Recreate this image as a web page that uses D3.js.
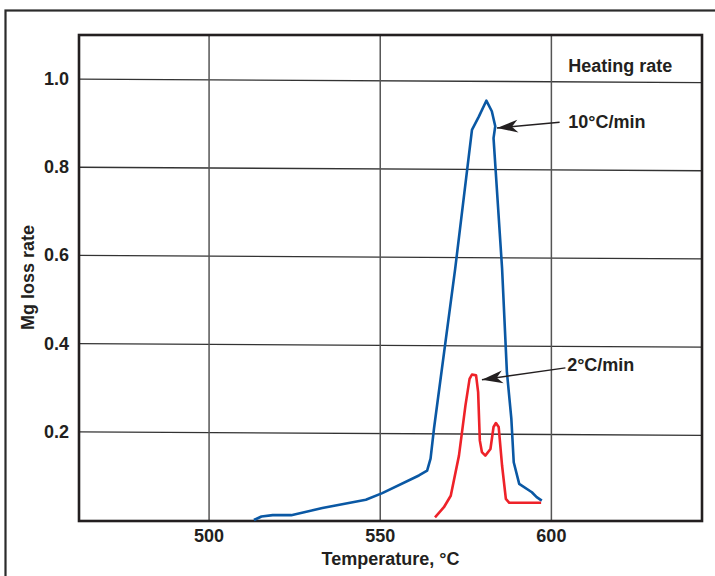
<!DOCTYPE html>
<html>
<head>
<meta charset="utf-8">
<script src="https://cdn.jsdelivr.net/npm/d3@7"></script>
<style>
  body { margin: 0; background: #fff; }
  svg text { font-family: "Liberation Sans", Arial, sans-serif; font-weight: bold; fill: #231f20; }
</style>
</head>
<body>
<svg id="chart" width="715" height="576"></svg>
<script>
// Mg loss rate vs temperature, two heating rates
const temp10 = [513.1, 515.3, 518.6, 524.0, 533.1, 545.8, 550.6, 561.3, 563.7, 564.7, 565.7, 571.9, 576.8, 578.8, 581.0, 582.6, 583.6, 583.1, 585.6, 587.0, 588.3, 589.0, 590.6, 594.3, 595.7, 597.2];
const rate10 = [0.0, 0.008, 0.011, 0.011, 0.027, 0.046, 0.061, 0.101, 0.112, 0.139, 0.207, 0.570, 0.885, 0.915, 0.951, 0.927, 0.893, 0.866, 0.570, 0.336, 0.230, 0.131, 0.082, 0.063, 0.052, 0.044];

const temp2 = [566.0, 568.6, 570.6, 573.0, 574.9, 576.1, 576.8, 578.0, 578.6, 579.1, 579.7, 580.7, 582.2, 583.1, 583.8, 584.6, 585.6, 586.7, 587.7, 597.0];
const rate2 = [0.006, 0.029, 0.055, 0.146, 0.260, 0.320, 0.330, 0.328, 0.290, 0.180, 0.154, 0.146, 0.161, 0.211, 0.220, 0.211, 0.123, 0.048, 0.039, 0.039];

const xTicks = [500, 550, 600];
const yTicks = [0.2, 0.4, 0.6, 0.8, 1.0];

// label text, text anchor point and arrow (tail -> tip) in data units
const notes = [
  { text: "10°C/min", tx: 604.9, ty: 0.902, x1: 602.4, y1: 0.902, x2: 584.1, y2: 0.889 },
  { text: "2°C/min",  tx: 604.6, ty: 0.352, x1: 604.1, y1: 0.345, x2: 579.7, y2: 0.318 }
];

const svg = d3.select("#chart");
const pl = 79, pr = 702, pt = 35, pb = 520;
const fs = 18;

const x = d3.scaleLinear().domain([462, 644]).range([pl, pr]);
const y = d3.scaleLinear().domain([0, 1.1]).range([pb, pt]);

// outer figure box (runs off the page on the right and bottom)
svg.append("rect")
  .attr("x", 5.5).attr("y", 10.5).attr("width", 760).attr("height", 620)
  .attr("fill", "none").attr("stroke", "#2b2b2b").attr("stroke-width", 2.2);

// grid: horizontal lines are slightly skewed in the original scan
const skew = 3.5;
svg.append("g").selectAll("line").data(yTicks).join("line")
  .attr("x1", pl).attr("x2", pr)
  .attr("y1", d => y(d)).attr("y2", d => y(d) + skew)
  .attr("stroke", "#333").attr("stroke-width", 1.3);

svg.append("g").selectAll("line").data(xTicks).join("line")
  .attr("x1", d => x(d)).attr("x2", d => x(d))
  .attr("y1", pt).attr("y2", pb)
  .attr("stroke", "#555").attr("stroke-width", 1.5);

// plot frame
svg.append("rect")
  .attr("x", pl).attr("y", pt).attr("width", pr - pl).attr("height", pb - pt + 1)
  .attr("fill", "none").attr("stroke", "#231f20").attr("stroke-width", 2.6);

// tick labels
svg.append("g").selectAll("text").data(yTicks).join("text")
  .attr("x", pl - 10).attr("y", d => y(d))
  .attr("text-anchor", "end").attr("dominant-baseline", "central")
  .attr("font-size", fs)
  .text(d => d3.format(".1f")(d));

svg.append("g").selectAll("text").data(xTicks).join("text")
  .attr("x", d => x(d)).attr("y", pb + 16)
  .attr("text-anchor", "middle").attr("dominant-baseline", "central")
  .attr("font-size", fs)
  .text(d => d);

// axis titles
svg.append("text")
  .attr("x", (pl + pr) / 2).attr("y", pb + 39)
  .attr("text-anchor", "middle").attr("dominant-baseline", "central")
  .attr("font-size", fs)
  .text("Temperature, °C");

svg.append("text")
  .attr("transform", `translate(28,${(pt + pb) / 2}) rotate(-90)`)
  .attr("text-anchor", "middle").attr("dominant-baseline", "central")
  .attr("font-size", fs)
  .text("Mg loss rate");

// curves
const line = d3.line().x(d => x(d[0])).y(d => y(d[1]));
svg.append("path")
  .datum(d3.zip(temp10, rate10))
  .attr("d", line)
  .attr("fill", "none").attr("stroke", "#0a58a4").attr("stroke-width", 2.6)
  .attr("stroke-linejoin", "round");
svg.append("path")
  .datum(d3.zip(temp2, rate2))
  .attr("d", line)
  .attr("fill", "none").attr("stroke", "#ee2229").attr("stroke-width", 2.6)
  .attr("stroke-linejoin", "round");

// legend title
svg.append("text")
  .attr("x", x(604.9)).attr("y", y(1.03))
  .attr("dominant-baseline", "central")
  .attr("font-size", fs)
  .text("Heating rate");

// arrows
svg.append("defs").append("marker")
  .attr("id", "head")
  .attr("viewBox", "-22 -7 24 14")
  .attr("refX", 0).attr("refY", 0)
  .attr("markerUnits", "userSpaceOnUse")
  .attr("markerWidth", 24).attr("markerHeight", 14)
  .attr("orient", "auto")
  .append("path")
  .attr("d", "M0,0 L-21,-6.5 L-15,0 L-21,6.5 Z")
  .attr("fill", "#231f20");

const ann = svg.append("g");
ann.selectAll("line").data(notes).join("line")
  .attr("x1", d => x(d.x1)).attr("y1", d => y(d.y1))
  .attr("x2", d => x(d.x2)).attr("y2", d => y(d.y2))
  .attr("stroke", "#231f20").attr("stroke-width", 1.4)
  .attr("marker-end", "url(#head)");
ann.selectAll("text").data(notes).join("text")
  .attr("x", d => x(d.tx)).attr("y", d => y(d.ty))
  .attr("dominant-baseline", "central")
  .attr("font-size", fs)
  .text(d => d.text);
</script>
</body>
</html>
